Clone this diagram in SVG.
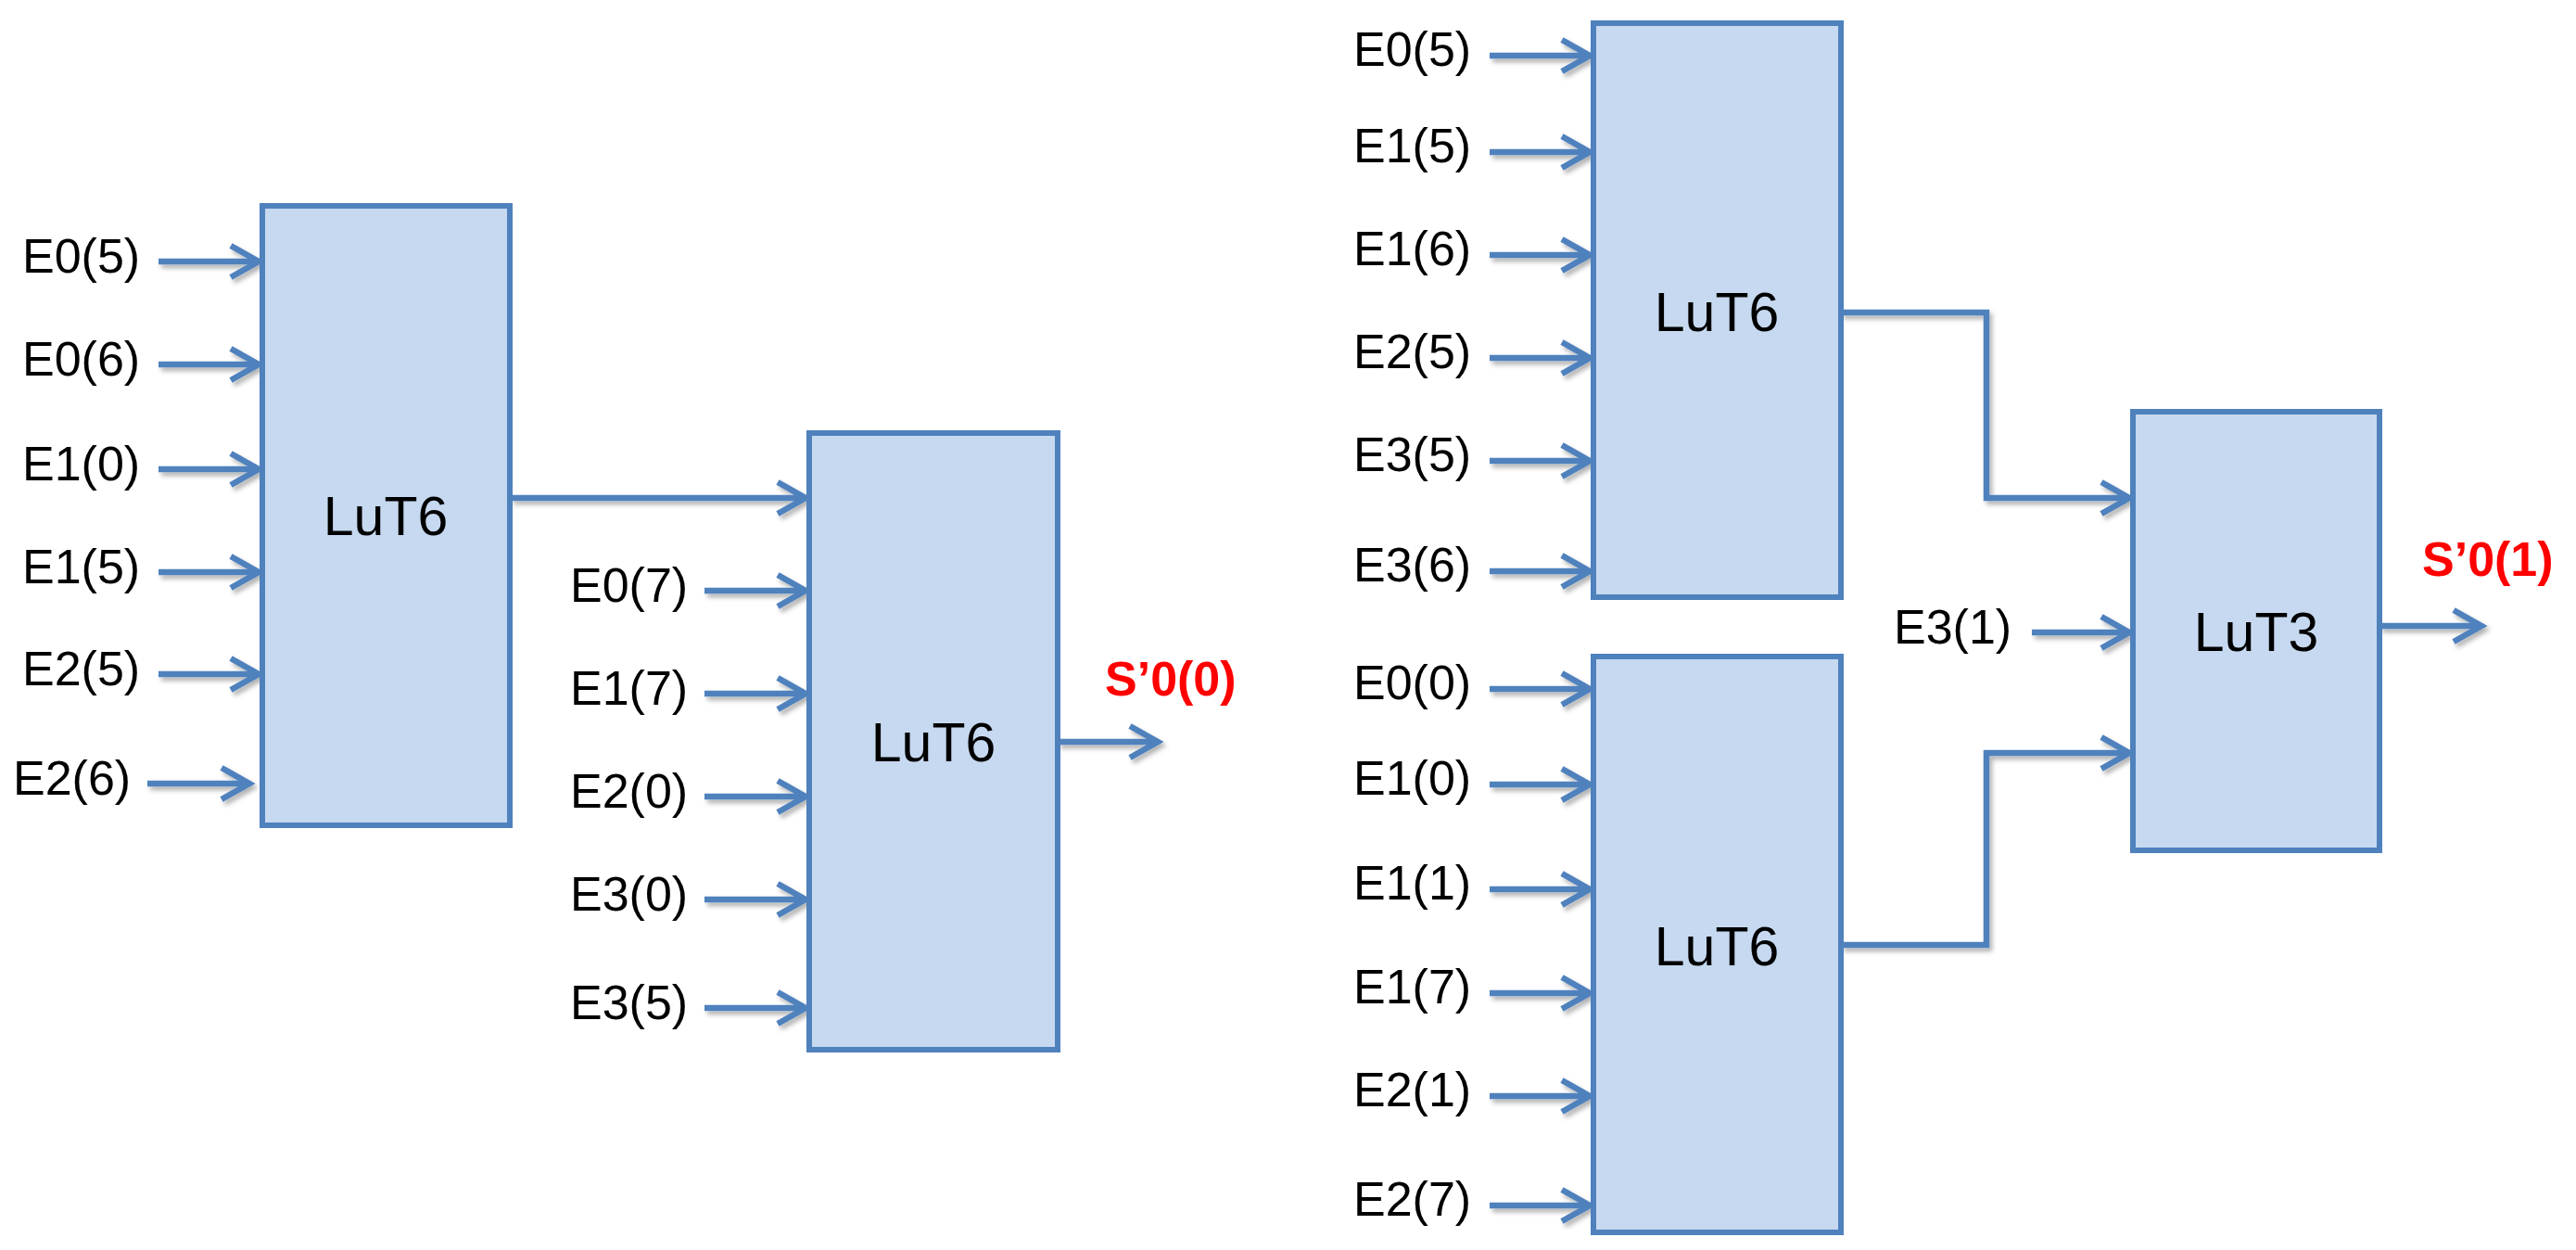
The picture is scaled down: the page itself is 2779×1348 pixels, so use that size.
<svg xmlns="http://www.w3.org/2000/svg" width="2779" height="1348" viewBox="0 0 2779 1348">
<style>
.box{fill:#C6D9F0;stroke:#4F81BD;stroke-width:6}
.wire{fill:none;stroke:#4F81BD;stroke-width:6.5}
.lbl{font-family:"Liberation Sans",Arial,sans-serif;font-size:52px;fill:#000}
.blk{font-family:"Liberation Sans",Arial,sans-serif;font-size:59px;fill:#000;text-anchor:middle}
.out{font-family:"Liberation Sans",Arial,sans-serif;font-size:52px;font-weight:bold;fill:#FF0000}
</style>
<defs>
<marker id="ah" markerUnits="userSpaceOnUse" markerWidth="60" markerHeight="60" viewBox="-40 -30 60 60" refX="0" refY="0" orient="auto" overflow="visible">
<path d="M-27,-17 L3,0 L-27,17" fill="none" stroke="#4F81BD" stroke-width="6.5" stroke-linejoin="miter" stroke-miterlimit="10"/>
</marker>
<filter id="sh" x="-10%" y="-50%" width="130%" height="300%">
<feDropShadow dx="3" dy="4" stdDeviation="2.5" flood-color="#000" flood-opacity="0.3"/>
</filter>
</defs>
<rect width="2779" height="1348" fill="#fff"/>

<g id="connectors" filter="url(#sh)">
<g class="wire" marker-end="url(#ah)">
<path d="M171,282 H276"/>
<path d="M171,393 H276"/>
<path d="M171,506 H276"/>
<path d="M171,617 H276"/>
<path d="M171,727 H276"/>
<path d="M159,845 H266"/>
<path d="M551,537 H866"/>
<path d="M760,637 H866"/>
<path d="M760,748 H866"/>
<path d="M760,859 H866"/>
<path d="M760,970 H866"/>
<path d="M760,1087 H866"/>
<path d="M1141,800 H1246"/>
<path d="M1607,60 H1712"/>
<path d="M1607,164 H1712"/>
<path d="M1607,275 H1712"/>
<path d="M1607,386 H1712"/>
<path d="M1607,497 H1712"/>
<path d="M1607,616 H1712"/>
<path d="M1607,743 H1712"/>
<path d="M1607,846 H1712"/>
<path d="M1607,959 H1712"/>
<path d="M1607,1071 H1712"/>
<path d="M1607,1182 H1712"/>
<path d="M1607,1300 H1712"/>
<path d="M1986,337 H2143 V537 H2294"/>
<path d="M1986,1019 H2143 V812 H2294"/>
<path d="M2192,682 H2294"/>
<path d="M2567,675 H2674"/>
</g>
</g>

<g id="lut6-a">
<rect class="box" x="283" y="222" width="267" height="668"/>
<text class="blk" x="416" y="577">LuT6</text>
</g>
<g id="lut6-b">
<rect class="box" x="873" y="467" width="268" height="665"/>
<text class="blk" x="1007" y="821">LuT6</text>
</g>
<g id="lut6-c">
<rect class="box" x="1719" y="25" width="267" height="619"/>
<text class="blk" x="1852" y="357">LuT6</text>
</g>
<g id="lut6-d">
<rect class="box" x="1719" y="708" width="267" height="621"/>
<text class="blk" x="1852" y="1041">LuT6</text>
</g>
<g id="lut3">
<rect class="box" x="2301" y="444" width="266" height="473"/>
<text class="blk" x="2434" y="702">LuT3</text>
</g>

<g id="input-labels" class="lbl">
<text class="lbl" x="24" y="294">E0(5)</text>
<text class="lbl" x="24" y="405">E0(6)</text>
<text class="lbl" x="24" y="518">E1(0)</text>
<text class="lbl" x="24" y="629">E1(5)</text>
<text class="lbl" x="24" y="739">E2(5)</text>
<text class="lbl" x="14" y="857">E2(6)</text>
<text class="lbl" x="615" y="649">E0(7)</text>
<text class="lbl" x="615" y="760">E1(7)</text>
<text class="lbl" x="615" y="871">E2(0)</text>
<text class="lbl" x="615" y="982">E3(0)</text>
<text class="lbl" x="615" y="1099">E3(5)</text>
<text class="lbl" x="1460" y="71">E0(5)</text>
<text class="lbl" x="1460" y="175">E1(5)</text>
<text class="lbl" x="1460" y="286">E1(6)</text>
<text class="lbl" x="1460" y="397">E2(5)</text>
<text class="lbl" x="1460" y="508">E3(5)</text>
<text class="lbl" x="1460" y="627">E3(6)</text>
<text class="lbl" x="1460" y="754">E0(0)</text>
<text class="lbl" x="1460" y="857">E1(0)</text>
<text class="lbl" x="1460" y="970">E1(1)</text>
<text class="lbl" x="1460" y="1082">E1(7)</text>
<text class="lbl" x="1460" y="1193">E2(1)</text>
<text class="lbl" x="1460" y="1311">E2(7)</text>
<text class="lbl" x="2043" y="694">E3(1)</text>
</g>

<g id="output-labels">
<text class="out" x="1192" y="750">S’0(0)</text>
<text class="out" x="2613" y="621">S’0(1)</text>
</g>
</svg>
